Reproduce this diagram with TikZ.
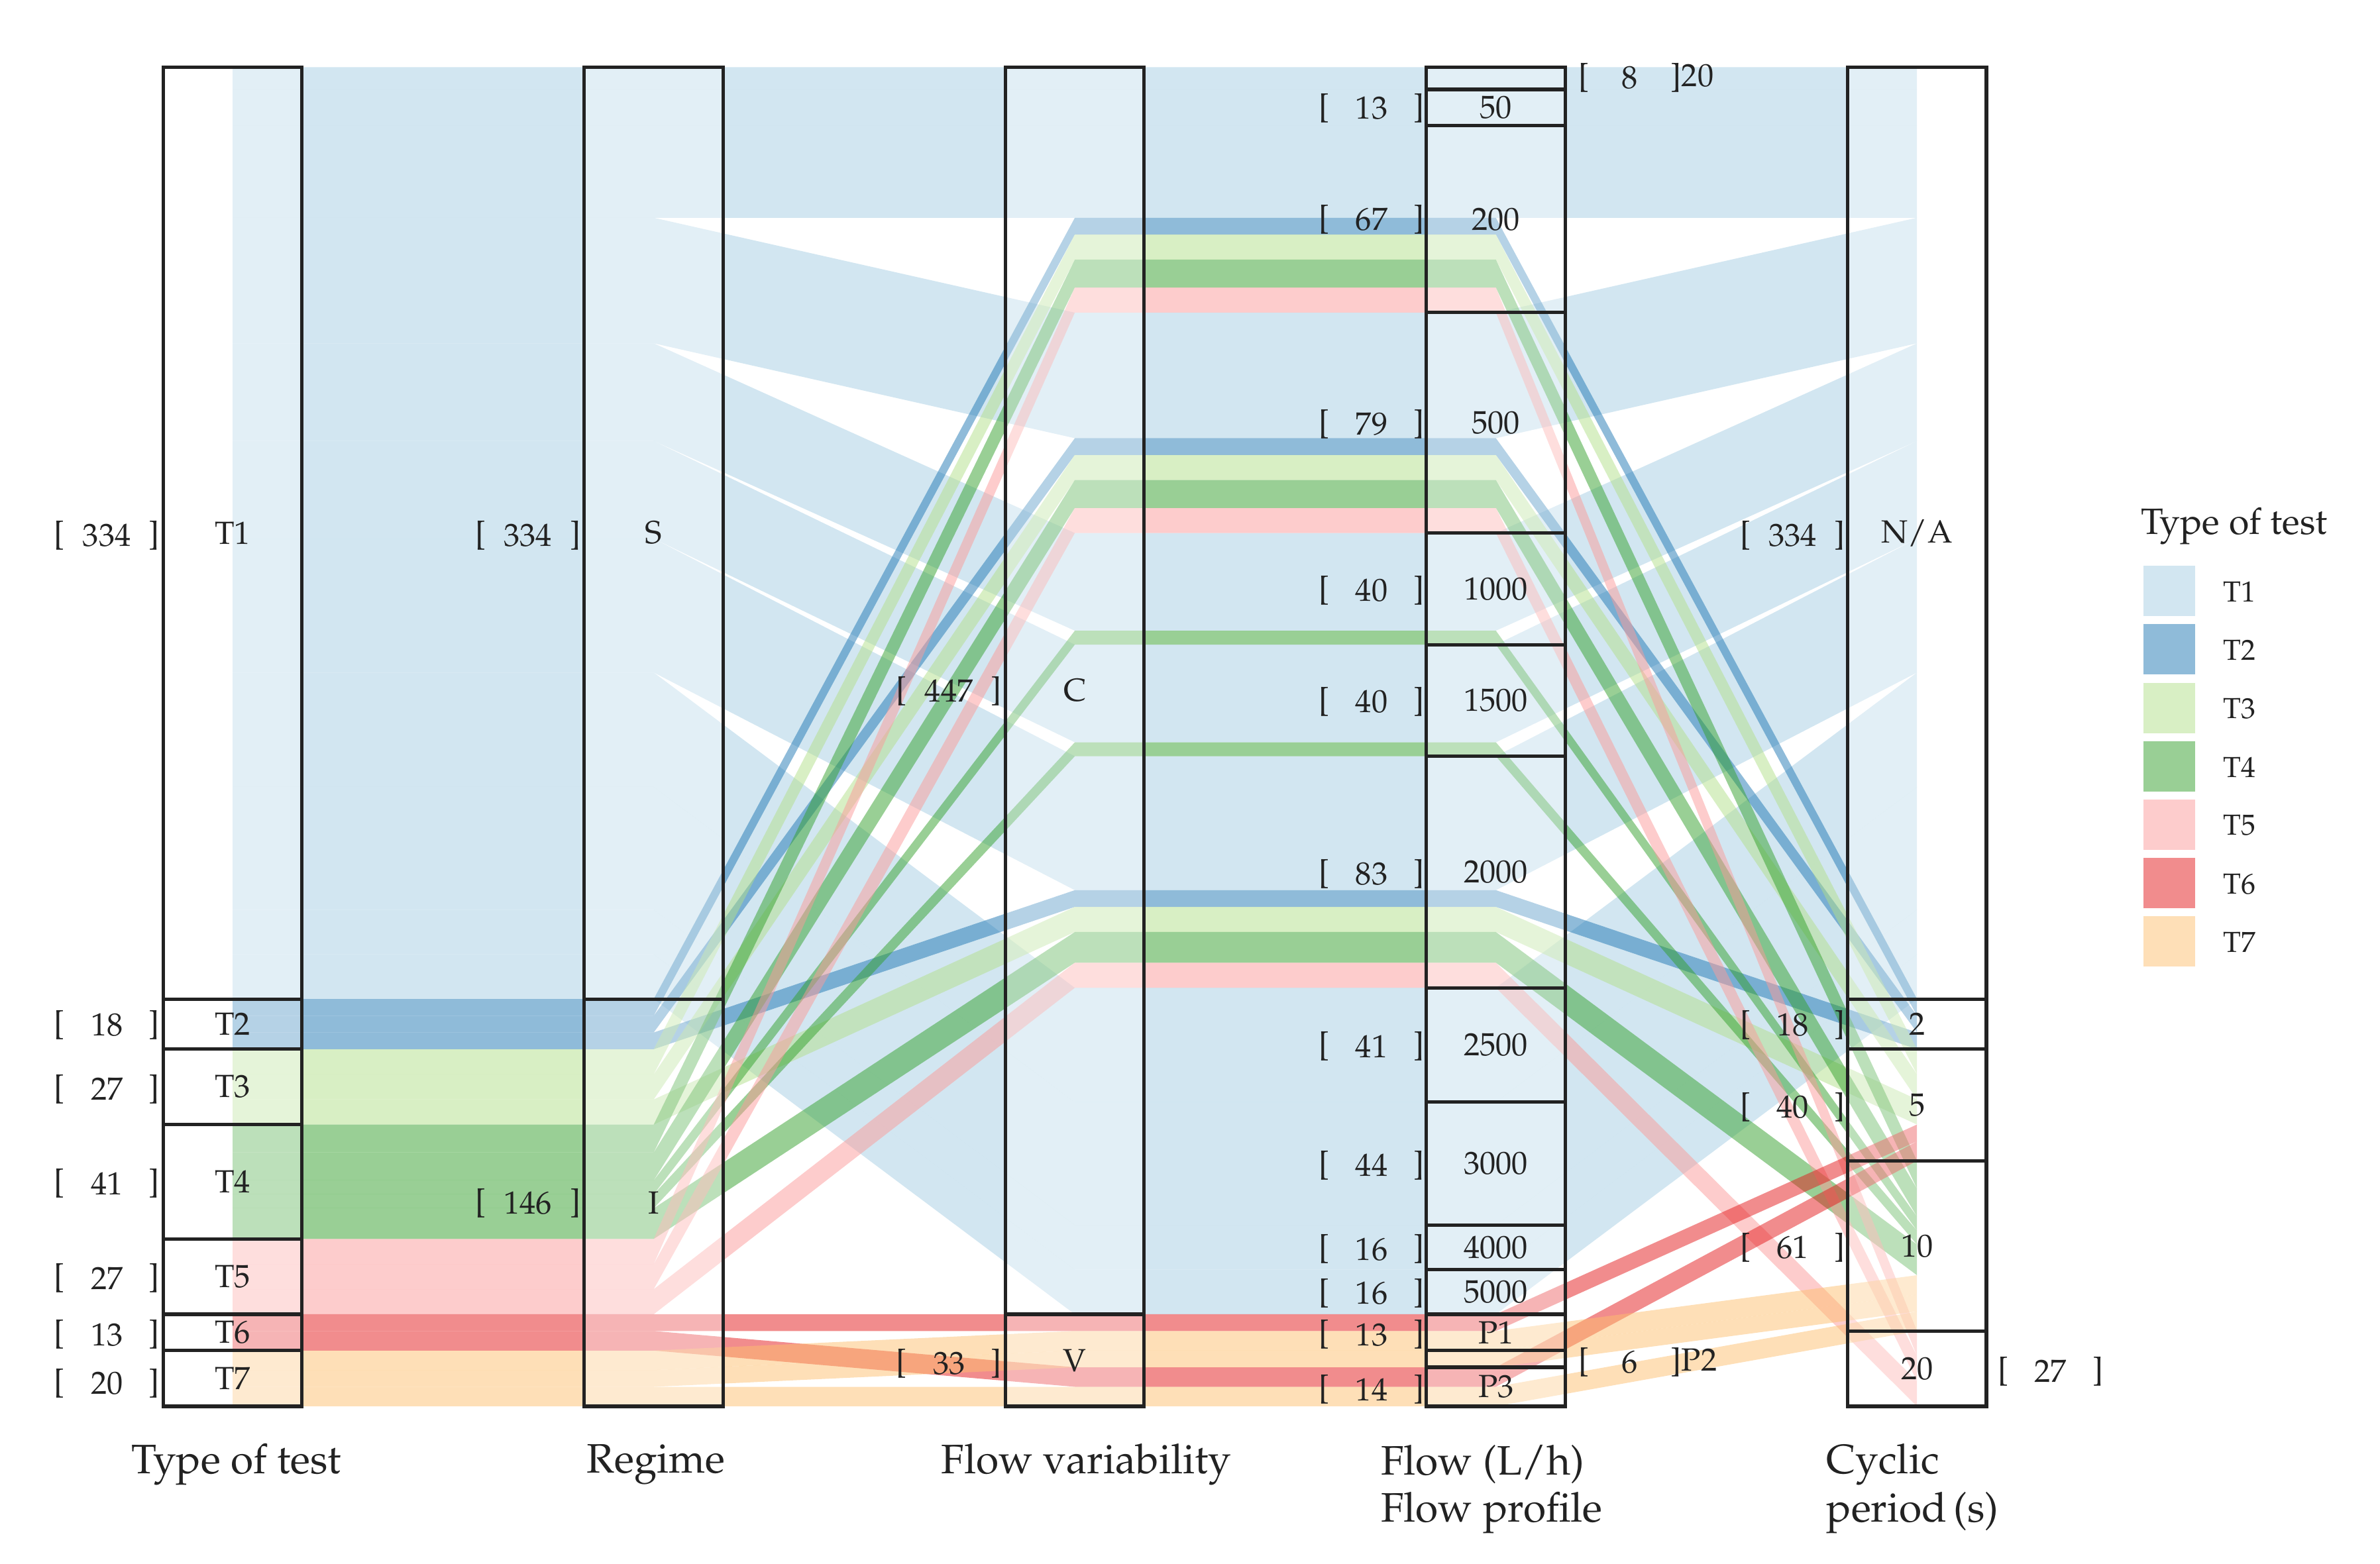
\documentclass[tikz,border=0pt]{standalone}
\usepackage[T1]{fontenc}
\usepackage{mathpazo}
\definecolor{cT1}{HTML}{A6CEE3}
\definecolor{cT2}{HTML}{1F78B4}
\definecolor{cT3}{HTML}{B2DF8A}
\definecolor{cT4}{HTML}{33A02C}
\definecolor{cT5}{HTML}{FB9A99}
\definecolor{cT6}{HTML}{E31A1C}
\definecolor{cT7}{HTML}{FDBF6F}
\definecolor{ink}{HTML}{222222}
\newcommand\uu{1.829167}
\newcommand\alv[7]{\fill[#1,fill opacity=.5] (152.5,{44+#3*\uu}) -- (428.5,{44+#4*\uu}) -- (704.5,{44+#5*\uu}) -- (980.5,{44+#6*\uu}) -- (1256.5,{44+#7*\uu}) -- (1256.5,{44+(#7+#2)*\uu}) -- (980.5,{44+(#6+#2)*\uu}) -- (704.5,{44+(#5+#2)*\uu}) -- (428.5,{44+(#4+#2)*\uu}) -- (152.5,{44+(#3+#2)*\uu}) -- cycle;}
\newcommand\strat[4]{\fill[white,fill opacity=.35] ({#1-45.5},{44+#2*\uu}) rectangle ({#1+45.5},{44+(#2+#3)*\uu});
 \draw[sbox] ({#1-45.5},{44+#2*\uu}) rectangle ({#1+45.5},{44+(#2+#3)*\uu});
 \node[lbl] at (#1,{44+(#2+#3/2)*\uu}) {#4};}
\newcommand\cnt[3]{\node[lbl] at ({#1-31},#2) {[}; \node[lbl] at (#1,#2) {#3}; \node[lbl] at ({#1+31},#2) {]};}
\begin{document}
\begin{tikzpicture}[x=1pt,y=-1pt,
  sbox/.style={draw=ink,line width=2.2},
  lbl/.style={text=ink,font=\fontsize{21}{24}\selectfont,inner sep=0},
  ttl/.style={text=ink,font=\fontsize{27}{30}\selectfont,inner sep=0},
  key/.style={draw=white,line width=2,fill opacity=.5}]
\useasboundingbox (0,0) rectangle (1560,1025);
% T1
\alv{cT1}{8}{0}{0}{0}{0}{0}
\alv{cT1}{13}{8}{8}{8}{8}{8}
\alv{cT1}{33}{21}{21}{21}{21}{21}
\alv{cT1}{45}{54}{54}{88}{88}{54}
\alv{cT1}{35}{99}{99}{167}{167}{99}
\alv{cT1}{35}{134}{134}{207}{207}{134}
\alv{cT1}{48}{169}{169}{247}{247}{169}
\alv{cT1}{41}{217}{217}{330}{330}{217}
\alv{cT1}{44}{258}{258}{371}{371}{258}
\alv{cT1}{16}{302}{302}{415}{415}{302}
\alv{cT1}{16}{318}{318}{431}{431}{318}
% T2
\alv{cT2}{6}{334}{334}{54}{54}{334}
\alv{cT2}{6}{340}{340}{133}{133}{340}
\alv{cT2}{6}{346}{346}{295}{295}{346}
% T3
\alv{cT3}{9}{352}{352}{60}{60}{352}
\alv{cT3}{9}{361}{361}{139}{139}{361}
\alv{cT3}{9}{370}{370}{301}{301}{370}
% T4
\alv{cT4}{10}{379}{379}{69}{69}{392}
\alv{cT4}{10}{389}{389}{148}{148}{402}
\alv{cT4}{5}{399}{399}{202}{202}{412}
\alv{cT4}{5}{404}{404}{242}{242}{417}
\alv{cT4}{11}{409}{409}{310}{310}{422}
% T5
\alv{cT5}{9}{420}{420}{79}{79}{453}
\alv{cT5}{9}{429}{429}{158}{158}{462}
\alv{cT5}{9}{438}{438}{321}{321}{471}
% T6
\alv{cT6}{6}{447}{447}{447}{447}{379}
\alv{cT6}{7}{453}{453}{466}{466}{385}
% T7
\alv{cT7}{7}{460}{460}{453}{453}{433}
\alv{cT7}{6}{467}{467}{460}{460}{440}
\alv{cT7}{7}{473}{473}{473}{473}{446}
% axis 1
\strat{152.5}{0}{334}{T1}\cnt{70}{351}{334}
\strat{152.5}{334}{18}{T2}\cnt{70}{672}{18}
\strat{152.5}{352}{27}{T3}\cnt{70}{714}{27}
\strat{152.5}{379}{41}{T4}\cnt{70}{776}{41}
\strat{152.5}{420}{27}{T5}\cnt{70}{838}{27}
\strat{152.5}{447}{13}{T6}\cnt{70}{875}{13}
\strat{152.5}{460}{20}{T7}\cnt{70}{907}{20}
% axis 2
\strat{428.5}{0}{334}{S}\cnt{346}{351}{334}
\strat{428.5}{334}{146}{I}\cnt{346}{789}{146}
% axis 3
\strat{704.5}{0}{447}{C}\cnt{622}{453}{447}
\strat{704.5}{447}{33}{V}\cnt{622}{894}{33}
% axis 4
\strat{980.5}{0}{8}{}
\node[lbl] at (1038,51) {[}; \node[lbl] at (1068,51) {8}; \node[lbl,anchor=west] at (1095,51) {]20};
\strat{980.5}{8}{13}{50}\cnt{899}{71}{13}
\strat{980.5}{21}{67}{200}\cnt{899}{144}{67}
\strat{980.5}{88}{79}{500}\cnt{899}{278}{79}
\strat{980.5}{167}{40}{1000}\cnt{899}{387}{40}
\strat{980.5}{207}{40}{1500}\cnt{899}{460}{40}
\strat{980.5}{247}{83}{2000}\cnt{899}{573}{83}
\strat{980.5}{330}{41}{2500}\cnt{899}{686}{41}
\strat{980.5}{371}{44}{3000}\cnt{899}{764}{44}
\strat{980.5}{415}{16}{4000}\cnt{899}{819}{16}
\strat{980.5}{431}{16}{5000}\cnt{899}{848}{16}
\strat{980.5}{447}{13}{P1}\cnt{899}{875}{13}
\strat{980.5}{460}{6}{}
\node[lbl] at (1038,893) {[}; \node[lbl] at (1068,893) {6}; \node[lbl,anchor=west] at (1095,893) {]P2};
\strat{980.5}{466}{14}{P3}\cnt{899}{911}{14}
% axis 5
\strat{1256.5}{0}{334}{N/A}\cnt{1175}{351}{334}
\strat{1256.5}{334}{18}{2}\cnt{1175}{672}{18}
\strat{1256.5}{352}{40}{5}\cnt{1175}{726}{40}
\strat{1256.5}{392}{61}{10}\cnt{1175}{818}{61}
\strat{1256.5}{453}{27}{20}\cnt{1344}{899}{27}
% axis titles
\node[ttl] (a1) at (155,960) {Type of test};
\node[ttl] (a2) at (430,960) {Regime};
\node[ttl] (a3) at (712,960) {Flow variability};
\node[ttl,anchor=west] (a4) at (905,960) {Flow (L/h)};
\node[ttl,anchor=west] (a4b) at (905,992) {Flow profile};
\node[ttl,anchor=west] (a5) at (1197,960) {Cyclic};
\node[ttl,anchor=west] (a5b) at (1197,992) {period\,(s)};
% legend
\node[ttl,anchor=west,font=\fontsize{24}{28}\selectfont] (lt) at (1403,345) {Type of test};
\foreach \c [count=\i from 0] in {T1,T2,T3,T4,T5,T6,T7}{
  \fill[c\c,key] (1404,{370+\i*38.3}) rectangle (1440,{405+\i*38.3});
  \node[lbl,anchor=west,font=\fontsize{19}{22}\selectfont] (k\c) at (1457,{388+\i*38.3}) {\c};
}
\end{tikzpicture}
\end{document}
